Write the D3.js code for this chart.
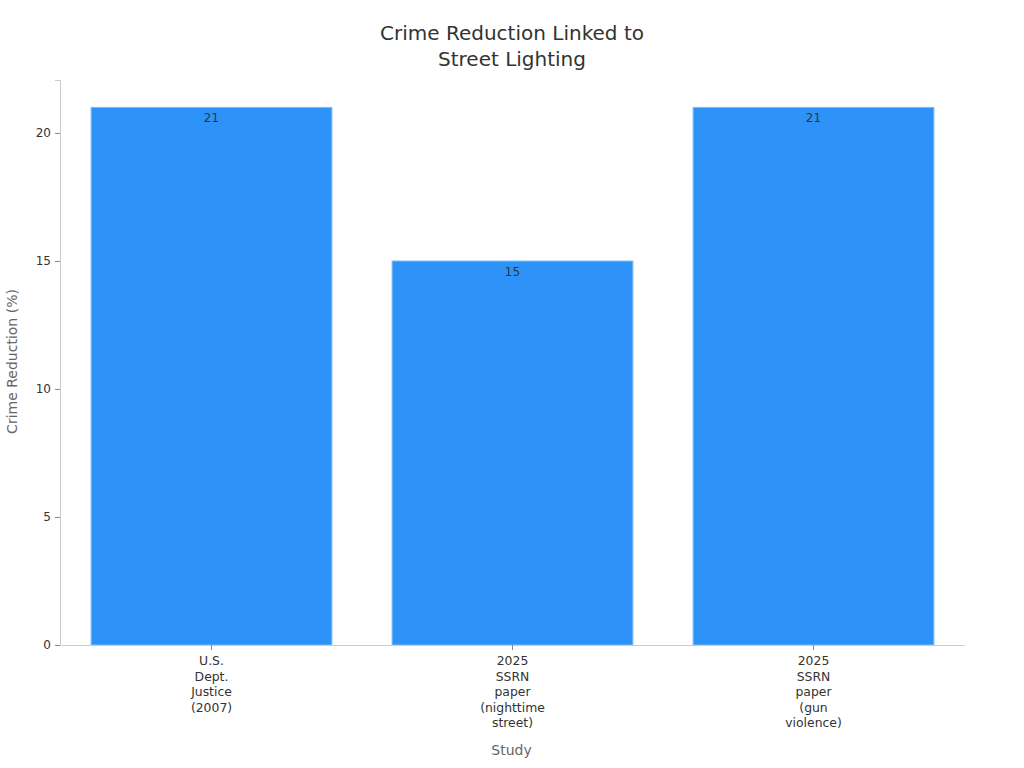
<!DOCTYPE html>
<html>
<head>
<meta charset="utf-8">
<script src="https://cdn.jsdelivr.net/npm/d3@7"></script>
<style>
  body { margin: 0; background: #fff; }
  svg { display: block; font-family: "DejaVu Sans", sans-serif; }
</style>
</head>
<body>
<div class="chart"></div>
<script>
const studies = [
  ["U.S.", "Dept.", "Justice", "(2007)"],
  ["2025", "SSRN", "paper", "(nighttime", "street)"],
  ["2025", "SSRN", "paper", "(gun", "violence)"]
];
const reductions = [21, 15, 21];
const yTicks = [0, 5, 10, 15, 20];

const width = 1024, height = 768;
const margin = { top: 80, right: 61, bottom: 123, left: 60 };
const innerW = width - margin.left - margin.right;
const innerH = height - margin.top - margin.bottom;

const svg = d3.select(".chart")
  .append("svg")
  .attr("width", width)
  .attr("height", height);

const g = svg.append("g")
  .attr("transform", `translate(${margin.left},${margin.top})`);

const keys = studies.map((s, i) => i);

const x = d3.scaleBand()
  .domain(keys)
  .range([1, innerW + 1])
  .paddingInner(0.2)
  .paddingOuter(0.1);

const y = d3.scaleLinear()
  .domain([0, 22.07])
  .range([innerH, 0]);

// bars
g.selectAll(".bar")
  .data(reductions)
  .enter().append("rect")
  .attr("class", "bar")
  .attr("x", (d, i) => x(i))
  .attr("y", d => y(d))
  .attr("width", x.bandwidth())
  .attr("height", d => innerH - y(d))
  .attr("fill", "#2e93f8")
  .attr("stroke", "#7dbcf9")
  .attr("stroke-width", 1);

// value labels
g.selectAll(".val")
  .data(reductions)
  .enter().append("text")
  .attr("class", "val")
  .attr("x", (d, i) => x(i) + x.bandwidth() / 2)
  .attr("y", d => y(d) + 15)
  .attr("text-anchor", "middle")
  .attr("font-size", 12)
  .attr("fill", "#333")
  .text(d => d);

// y axis
const yAxis = g.append("g")
  .call(d3.axisLeft(y).tickValues(yTicks).tickSize(5).tickPadding(4));
yAxis.select(".domain").attr("stroke", "#ccc");
yAxis.selectAll(".tick line").attr("stroke", "#888");
yAxis.selectAll(".tick text").attr("font-size", 12).attr("fill", "#333")
  .attr("font-family", "DejaVu Sans, sans-serif");

// x axis
const xAxis = g.append("g")
  .attr("transform", `translate(0,${innerH})`)
  .call(d3.axisBottom(x).tickSize(5).tickSizeOuter(0).tickFormat(""));
xAxis.select(".domain").attr("stroke", "#ccc");
xAxis.selectAll(".tick line").attr("stroke", "#888");

xAxis.selectAll(".tick")
  .append("text")
  .attr("text-anchor", "middle")
  .attr("font-size", 12.4)
  .attr("font-family", "DejaVu Sans, sans-serif")
  .attr("fill", "#333")
  .selectAll("tspan")
  .data(i => studies[i])
  .enter().append("tspan")
  .attr("x", 0)
  .attr("y", (d, j) => 20 + j * 15.5)
  .text(d => d);

// axis titles
svg.append("text")
  .attr("x", margin.left + innerW / 2)
  .attr("y", 755)
  .attr("text-anchor", "middle")
  .attr("font-size", 14)
  .attr("fill", "#666")
  .text("Study");

svg.append("text")
  .attr("transform", `translate(17,${margin.top + innerH / 2 - 1}) rotate(-90)`)
  .attr("text-anchor", "middle")
  .attr("font-size", 14)
  .attr("fill", "#666")
  .text("Crime Reduction (%)");

// title
const title = svg.append("text")
  .attr("text-anchor", "middle")
  .attr("font-size", 20)
  .attr("fill", "#333");
title.selectAll("tspan")
  .data(["Crime Reduction Linked to", "Street Lighting"])
  .enter().append("tspan")
  .attr("x", width / 2)
  .attr("y", (d, i) => 40 + i * 26)
  .text(d => d);
</script>
</body>
</html>
